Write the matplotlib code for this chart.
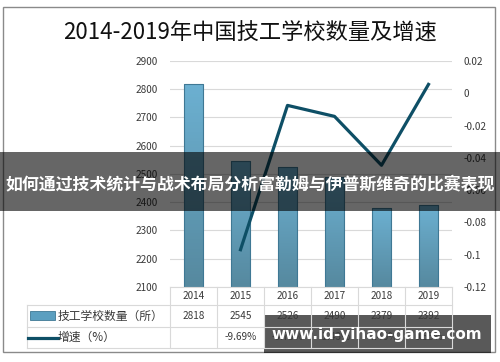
import numpy as np
import matplotlib
matplotlib.use('Agg')
import matplotlib.pyplot as plt
from matplotlib.patches import Rectangle
from matplotlib.lines import Line2D
from matplotlib.colors import LinearSegmentedColormap

plt.rcParams['font.family'] = ['Noto Sans CJK SC', 'DejaVu Sans']

# 数据
years = ['2014', '2015', '2016', '2017', '2018', '2019']
schools = [2818, 2545, 2526, 2490, 2379, 2392]
growth = [np.nan, -0.0969, -0.0075, -0.0143, -0.0446, 0.0055]
growth_labels = ['', '-9.69%', '-0.75%', '-1.43%', '-4.46%', '0.55%']
left_ticks = [2100, 2200, 2300, 2400, 2500, 2600, 2700, 2800, 2900]
right_ticks = [-0.12, -0.1, -0.08, -0.06, -0.04, -0.02, 0, 0.02]
right_labels = ['-0.12', '-0.1', '-0.08', '-0.06', '-0.04', '-0.02', '0', '0.02']

title = '2014-2019年中国技工学校数量及增速'
banner = '如何通过技术统计与战术布局分析富勒姆与伊普斯维奇的比赛表现'
watermark = 'www.id-yihao-game.com'
row_names = ['技工学校数量（所）', '增速（%）']

W, H = 500, 362
bar_color = '#5b9fc0'
line_color = '#0e4f66'
grid_color = '#d9d9d9'
text_color = '#3a3a3a'


def box(x0, y0, x1, y1):
    # пиксели (від верхнього лівого кута) -> частки фігури
    return [x0 / W, 1 - y1 / H, (x1 - x0) / W, (y1 - y0) / H]


fig = plt.figure(figsize=(W / 100, H / 100), dpi=100)

# Основний графік
ax = fig.add_axes(box(170, 61, 452, 287))
x = np.arange(len(years))
bars = ax.bar(x, schools, width=0.42, color='none', edgecolor='#3f7894', linewidth=0.8, zorder=4)
ax.set_xlim(-0.5, len(years) - 0.5)
ax.set_ylim(2100, 2900)

# градієнт у стовпчиках
grad = LinearSegmentedColormap.from_list('g', ['#56899f', '#6cb0d1'])
for b in bars:
    im = ax.imshow(np.linspace(0, 1, 64).reshape(-1, 1), cmap=grad, origin='lower',
                   extent=[b.get_x(), b.get_x() + b.get_width(), 2100, b.get_height()],
                   aspect='auto', zorder=3)
    im.set_clip_path(b)
ax.set_xlim(-0.5, len(years) - 0.5)
ax.set_ylim(2100, 2900)
ax.set_yticks(left_ticks)
ax.set_xticks([])
ax.grid(axis='y', color=grid_color, linewidth=0.8, zorder=0)
for s in ax.spines.values():
    s.set_visible(False)
ax.tick_params(axis='y', length=0, pad=9, labelsize=7.2, labelcolor=text_color)

ax2 = ax.twinx()
ax2.plot(x, growth, color=line_color, linewidth=2.3, zorder=4)
ax2.set_ylim(-0.12, 0.02)
ax2.set_yticks(right_ticks, right_labels)
for s in ax2.spines.values():
    s.set_visible(False)
ax2.tick_params(axis='y', length=0, pad=8, labelsize=7.2, labelcolor=text_color)

# Накладка: заголовок, таблиця, рамка, банери
ov = fig.add_axes([0, 0, 1, 1], zorder=5)
ov.set_xlim(0, W)
ov.set_ylim(H, 0)
ov.axis('off')

ov.text(250, 33, title, ha='center', va='center', fontsize=16, color='#111111')

col_left, col_w = 170, 47
rows_y = [287, 305, 327, 348]
# горизонтальні лінії таблиці
ov.add_line(Line2D([col_left, col_left + col_w * 6], [rows_y[0]] * 2, color=grid_color, lw=0.8))
for yy in rows_y[1:]:
    ov.add_line(Line2D([27, col_left + col_w * 6], [yy] * 2, color=grid_color, lw=0.8))
# вертикальні лінії
ov.add_line(Line2D([27, 27], [rows_y[1], rows_y[3]], color=grid_color, lw=0.8))
for i in range(7):
    xx = col_left + col_w * i
    ov.add_line(Line2D([xx, xx], [rows_y[0], rows_y[3]], color=grid_color, lw=0.8))

for i, yr in enumerate(years):
    cx = col_left + col_w * (i + 0.5)
    ov.text(cx, 296, yr, ha='center', va='center', fontsize=7.2, color=text_color)
    ov.text(cx, 316, str(schools[i]), ha='center', va='center', fontsize=7.2, color=text_color)
    ov.text(cx, 337.5, growth_labels[i], ha='center', va='center', fontsize=7.2, color=text_color)

ov.add_patch(Rectangle((30, 311), 25, 9, facecolor=bar_color, edgecolor='#3f7894', lw=0.6))
ov.text(58, 316, row_names[0], ha='left', va='center', fontsize=8.5, color=text_color)
ov.add_line(Line2D([28, 58], [338, 338], color=line_color, lw=2.3))
ov.text(58, 337.5, row_names[1], ha='left', va='center', fontsize=8.5, color=text_color)

# Рамка
ov.add_patch(Rectangle((3, 7), 492, 345, fill=False, edgecolor='#8a8a8a', lw=1))

# Банер
ov.add_patch(Rectangle((0, 152), 500, 59, facecolor='black', alpha=0.6, lw=0))
ov.text(250, 184, banner, ha='center', va='center', fontsize=12.2, fontweight='bold', color='white')

# Водяний знак
ov.add_patch(Rectangle((264, 315), 227, 38, facecolor='black', alpha=0.65, lw=0))
ov.text(377, 334, watermark, ha='center', va='center', fontsize=11, fontweight='bold',
        color='white', family=['DejaVu Sans'])

fig.savefig('out.png', dpi=100)
